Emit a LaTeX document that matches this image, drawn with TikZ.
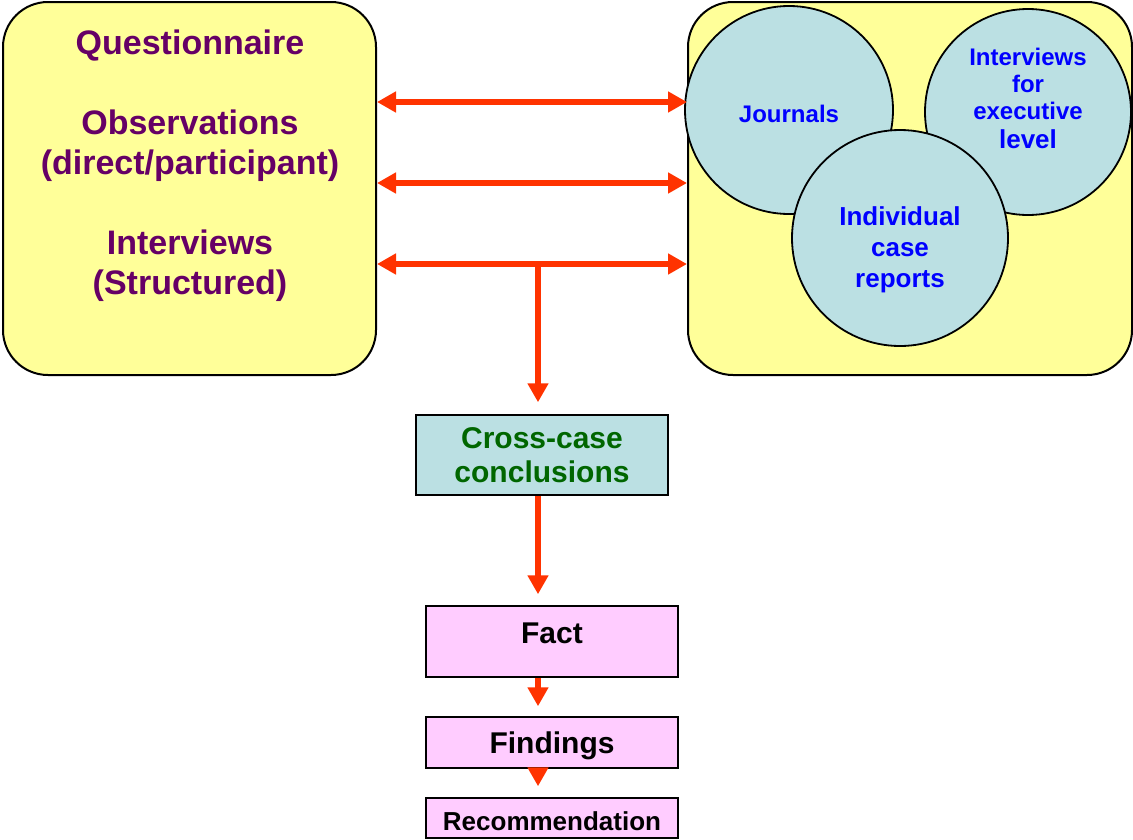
\documentclass[tikz,border=0pt]{standalone}
\usepackage{fontspec}
\setmainfont{Liberation Sans}
\usetikzlibrary{arrows.meta,positioning}

\definecolor{paleyellow}{HTML}{FFFF99}
\definecolor{paleblue}{HTML}{BBE0E3}
\definecolor{palepink}{HTML}{FFCCFF}
\definecolor{arrowred}{HTML}{FF3300}
\definecolor{plum}{HTML}{660066}
\definecolor{leafgreen}{HTML}{006600}

\tikzset{
  group/.style={draw, line width=2pt, fill=paleyellow, rounded corners=45pt,
    minimum height=373pt, inner sep=0pt},
  source/.style={circle, draw, line width=1.8pt, fill=paleblue, inner sep=0pt},
  srctext/.style={text=blue, align=center, inner sep=0pt,
    font=\bfseries\fontsize{24}{27}\selectfont},
  stage/.style={draw, line width=1.5pt, minimum width=252pt, align=center,
    inner sep=0pt, font=\bfseries\fontsize{30}{34}\selectfont},
  flow/.style={draw=arrowred, line width=6.5pt},
  oneway/.style={flow, -{Triangle[width=20pt,length=19pt]}},
  twoway/.style={flow, {Triangle[width=20pt,length=19pt]}-{Triangle[width=20pt,length=19pt]}}
}

\begin{document}
\begin{tikzpicture}[x=1pt, y=-1pt]
  \useasboundingbox (0,0) rectangle (1133,839);

  % Nodes
  \node[group, minimum width=373pt] (methods) at (189.5,188.5) {};
  \node[text=plum, align=center, font=\bfseries\fontsize{34}{40}\selectfont] (methods-txt) at (190,166)
    {Questionnaire\\ \mbox{}\\ Observations\\ (direct/participant)\\ \mbox{}\\ Interviews\\ (Structured)};

  \node[group, minimum width=444pt] (sources) at (910,188.5) {};
  \node[source, minimum size=208pt] (journals) at (789,110) {};
  \node[source, minimum size=206pt] (execs) at (1028,112) {};
  \node[source, minimum size=216pt] (cases) at (900,238) {};
  \node[srctext] (journals-txt) at (789,114) {Journals};
  \node[srctext] (execs-txt) at (1028,98) {Interviews\\ for\\ executive\\[2pt] {\fontsize{26}{30}\selectfont level}};
  \node[srctext, font=\bfseries\fontsize{26}{31}\selectfont] (cases-txt) at (900,250) {Individual\\ case\\ reports};

  \node[stage, fill=paleblue, text=leafgreen, minimum height=80pt] (cross) at (542,455) {Cross-case\\ conclusions};
  \node[stage, fill=palepink, minimum height=71pt, text depth=16pt] (fact) at (552,641.5) {Fact};
  \node[stage, fill=palepink, minimum height=51pt, text depth=0pt] (findings) at (552,742.5) {Findings};
  \node[stage, fill=palepink, minimum height=40pt, text height=25pt, font=\bfseries\fontsize{26}{30}\selectfont] (rec) at (552,818) {Recommendation};

  % Edges
  \foreach \y in {102,183,264}
    \draw[twoway] (methods.east |- 0,\y) -- (sources.west |- 0,\y);

  \coordinate (split) at (538,264);
  \draw[oneway, shorten >=12pt] (split) -- (split |- cross.north);
  \draw[oneway, shorten >=11pt] (split |- cross.south) -- (split |- fact.north);
  \draw[oneway, shorten >=10pt] (split |- fact.south) -- (split |- findings.north);
  \draw[oneway, shorten >=11pt] (split |- findings.south) -- (split |- rec.north);
\end{tikzpicture}
\end{document}
